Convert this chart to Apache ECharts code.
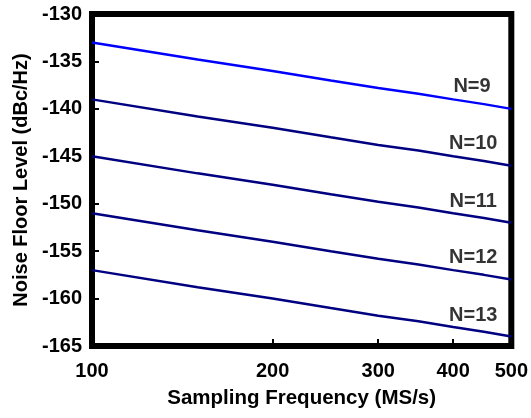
<!DOCTYPE html>
<html>
<head>
<meta charset="utf-8">
<script src="https://cdn.jsdelivr.net/npm/echarts@6/dist/echarts.min.js"></script>
<style>html,body{margin:0;padding:0;background:#fff}#c{width:531px;height:418px}</style>
</head>
<body>
<div id="c"></div>
<script>
const freqs = [100, 150, 200, 250, 300, 350, 400, 450, 500];
const n9  = [-133, -134.8, -136.0, -137.0, -137.8, -138.4, -139.0, -139.5, -140.0];
const n10 = [-139, -140.8, -142.0, -143.0, -143.8, -144.4, -145.0, -145.5, -146.0];
const n11 = [-145, -146.8, -148.0, -149.0, -149.8, -150.4, -151.0, -151.5, -152.0];
const n12 = [-151, -152.8, -154.0, -155.0, -155.8, -156.4, -157.0, -157.5, -158.0];
const n13 = [-157, -158.8, -160.0, -161.0, -161.8, -162.4, -163.0, -163.5, -164.0];
const seriesNames = ['N=9', 'N=10', 'N=11', 'N=12', 'N=13'];
const seriesValues = [n9, n10, n11, n12, n13];
const xTickLabels = [100, 200, 300, 400, 500];
const xTicks = [200, 300, 400];
const labelX = [430, 432, 432, 432, 432];
const labelY = [-137.6, -143.7, -149.8, -155.7, -161.8];

const colors = ['#0000ff', '#000080', '#000080', '#000080', '#000080'];
const font = '"Liberation Sans", Arial, sans-serif';

const series = seriesValues.map((vals, i) => ({
  type: 'line',
  name: seriesNames[i],
  data: freqs.map((f, j) => [f, vals[j]]),
  showSymbol: false,
  symbol: 'none',
  lineStyle: { color: colors[i], width: 2.5 },
  silent: true,
  z: 2
}));
series.push({
  type: 'scatter',
  symbolSize: 0,
  silent: true,
  data: labelX.map((x, i) => ({ value: [x, labelY[i]], name: seriesNames[i] })),
  label: {
    show: true,
    position: 'inside',
    formatter: p => p.name,
    color: '#000',
    fontFamily: font,
    fontWeight: 'bold',
    fontSize: 20
  }
});

const chart = echarts.init(document.getElementById('c'), null, { renderer: 'canvas' });
chart.setOption({
  animation: false,
  backgroundColor: '#fff',
  grid: {
    left: 92, right: 18, top: 14, bottom: 72,
    show: true, borderColor: '#000', borderWidth: 6, backgroundColor: 'transparent'
  },
  xAxis: {
    type: 'log',
    logBase: 10,
    min: 100,
    max: 500,
    name: 'Sampling Frequency (MS/s)',
    nameLocation: 'middle',
    nameGap: 42,
    nameTextStyle: { fontFamily: font, fontWeight: 'bold', fontSize: 20.5, color: '#000' },
    axisLine: { show: false },
    axisTick: { show: true, inside: true, length: 7, customValues: xTicks, lineStyle: { color: '#000', width: 2 } },
    minorTick: { show: false },
    splitLine: { show: false },
    axisLabel: {
      customValues: xTickLabels,
      margin: 15,
      fontFamily: font, fontWeight: 'bold', fontSize: 20, color: '#000'
    }
  },
  yAxis: {
    type: 'value',
    min: -165,
    max: -130,
    interval: 5,
    name: 'Noise Floor Level (dBc/Hz)',
    nameLocation: 'middle',
    nameGap: 55,
    nameTextStyle: { fontFamily: font, fontWeight: 'bold', fontSize: 20, color: '#000' },
    axisLine: { show: false },
    axisTick: { show: true, inside: true, length: 7, lineStyle: { color: '#000', width: 2 } },
    splitLine: { show: false },
    axisLabel: { margin: 10, fontFamily: font, fontWeight: 'bold', fontSize: 20, color: '#000' }
  },
  series: series
});
</script>
</body>
</html>
